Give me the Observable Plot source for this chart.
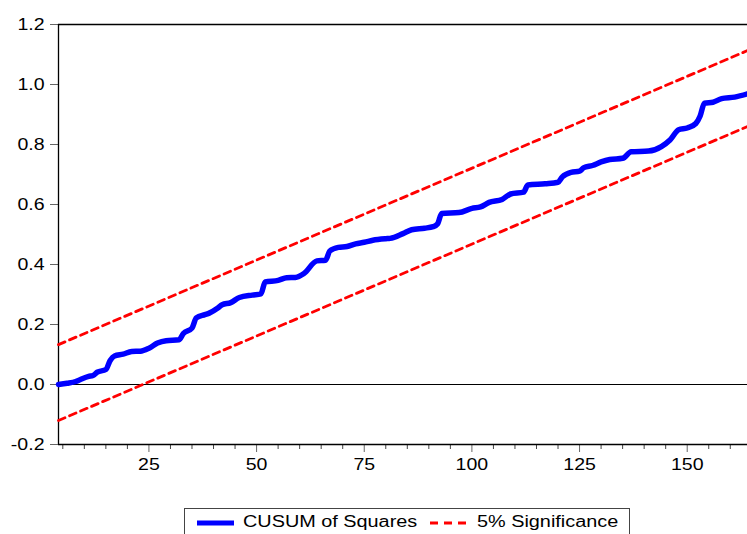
<!DOCTYPE html>
<html><head><meta charset="utf-8">
<script src="https://cdn.jsdelivr.net/npm/d3@7"></script>
<script src="https://cdn.jsdelivr.net/npm/@observablehq/plot@0.6"></script>
<style>
body{margin:0;background:#fff;font-family:"Liberation Sans",Arial,sans-serif;}
#wrap{position:relative;width:747px;height:534px;overflow:hidden;background:#fff}
#wrap svg text{font-size:16px}
#legend{position:absolute;left:184px;top:508px;width:446px;height:34px;border:1px solid #444;box-sizing:border-box;background:#fff}
#legend .sw{position:absolute;top:6px}
#legend .lt{position:absolute;top:4px;font-size:16px;line-height:18px;color:#000;white-space:nowrap;transform-origin:left center;transform:scaleX(1.24)}
</style></head><body><div id="wrap"></div>
<script>
// CUSUM of Squares series (observation, value)
const obs = [4,6,8,9,11,12,13,15,16,17,19,21,23,25,27,29,32,33,35,36,38,39,41,42,44,46,49,51,52,55,57,59,61,64,66,67,69,71,73,75,77,80,81,84,86,89,91,92,93,97,100,102,104,107,109,112,113,117,120,121,123,125,126,128,130,132,135,137,141,144,146,148,150,152,153,154,156,158,161,164];
const cusumSq = [0.000,0.004,0.010,0.016,0.027,0.030,0.041,0.050,0.080,0.095,0.101,0.110,0.111,0.121,0.138,0.146,0.149,0.170,0.188,0.222,0.233,0.238,0.255,0.266,0.273,0.290,0.298,0.302,0.342,0.347,0.356,0.357,0.370,0.412,0.414,0.445,0.457,0.460,0.469,0.474,0.481,0.486,0.487,0.503,0.516,0.521,0.526,0.535,0.570,0.573,0.587,0.592,0.607,0.617,0.635,0.641,0.665,0.669,0.674,0.692,0.707,0.711,0.723,0.730,0.742,0.750,0.754,0.776,0.778,0.793,0.815,0.849,0.855,0.870,0.895,0.938,0.941,0.953,0.958,0.969];
// 5% significance bounds
const bandObs = [4,164];
const upperBand = [0.133,1.113];
const lowerBand = [-0.120,0.860];
// axes
const yTicks = [-0.2,0,0.2,0.4,0.6,0.8,1.0,1.2];
const xMajor = [25,50,75,100,125,150];
const xMinor = [5,10,15,20,30,35,40,45,55,60,65,70,80,85,90,95,105,110,115,120,130,135,140,145,155,160];
const xDomain = [4,164];
const yDomain = [-0.2,1.2];

const series = obs.map((o,i)=>({obs:o, v:cusumSq[i]}));
const bands = [
  ...bandObs.map((o,i)=>({obs:o, v:upperBand[i], k:"upper"})),
  ...bandObs.map((o,i)=>({obs:o, v:lowerBand[i], k:"lower"}))
];

const plot = Plot.plot({
  width:747, height:500,
  marginLeft:58, marginRight:0, marginTop:24, marginBottom:56,
  style:{fontFamily:"'Liberation Sans', Arial, sans-serif", fontSize:"16px", color:"#000", background:"#fff", overflow:"visible"},
  x:{domain:xDomain},
  y:{domain:yDomain},
  marks:[
    Plot.axisY(yTicks,{tickSize:8, tickPadding:6, tickFormat:d=>d.toFixed(1), stroke:"#666", fill:"#000", label:null}),
    Plot.axisX(xMinor,{tickSize:5, tickFormat:()=>"", stroke:"#444", label:null}),
    Plot.axisX(xMajor,{tickSize:8, tickPadding:6, tickFormat:d=>String(d), stroke:"#666", fill:"#000", label:null}),
    Plot.ruleY([0],{stroke:"#000", strokeWidth:1}),
    Plot.ruleY([yDomain[1]],{stroke:"#000", strokeWidth:1.3}),
    Plot.ruleY([yDomain[0]],{stroke:"#000", strokeWidth:1.3}),
    Plot.ruleX([xDomain[0]],{stroke:"#000", strokeWidth:1.3}),
    Plot.line(bands,{x:"obs", y:"v", z:"k", stroke:"#ff0000", strokeWidth:2.8, strokeDasharray:"7,5"}),
    Plot.line(series,{x:"obs", y:"v", stroke:"#0000ff", strokeWidth:5.5, curve:"monotone-x", strokeLinejoin:"round", strokeLinecap:"round"})
  ]
});

const wrap = document.getElementById("wrap");
wrap.append(plot);
plot.querySelectorAll("text").forEach(t=>{
  const l = t.getComputedTextLength();
  if (l>0){ t.setAttribute("textLength", (l*1.22).toFixed(2)); t.setAttribute("lengthAdjust","spacingAndGlyphs"); }
});

// legend
const legend = document.createElement("div");
legend.id = "legend";
legend.innerHTML =
  '<svg class="sw" style="left:12px" width="38" height="16"><line x1="0" x2="37" y1="8" y2="8" stroke="#0000ff" stroke-width="5"/></svg>' +
  '<span class="lt" style="left:58px">CUSUM of Squares</span>' +
  '<svg class="sw" style="left:245px" width="38" height="16"><line x1="0" x2="37" y1="8" y2="8" stroke="#ff0000" stroke-width="2.8" stroke-dasharray="8,6"/></svg>' +
  '<span class="lt" style="left:292px">5% Significance</span>';
wrap.append(legend);
</script>
</body></html>
